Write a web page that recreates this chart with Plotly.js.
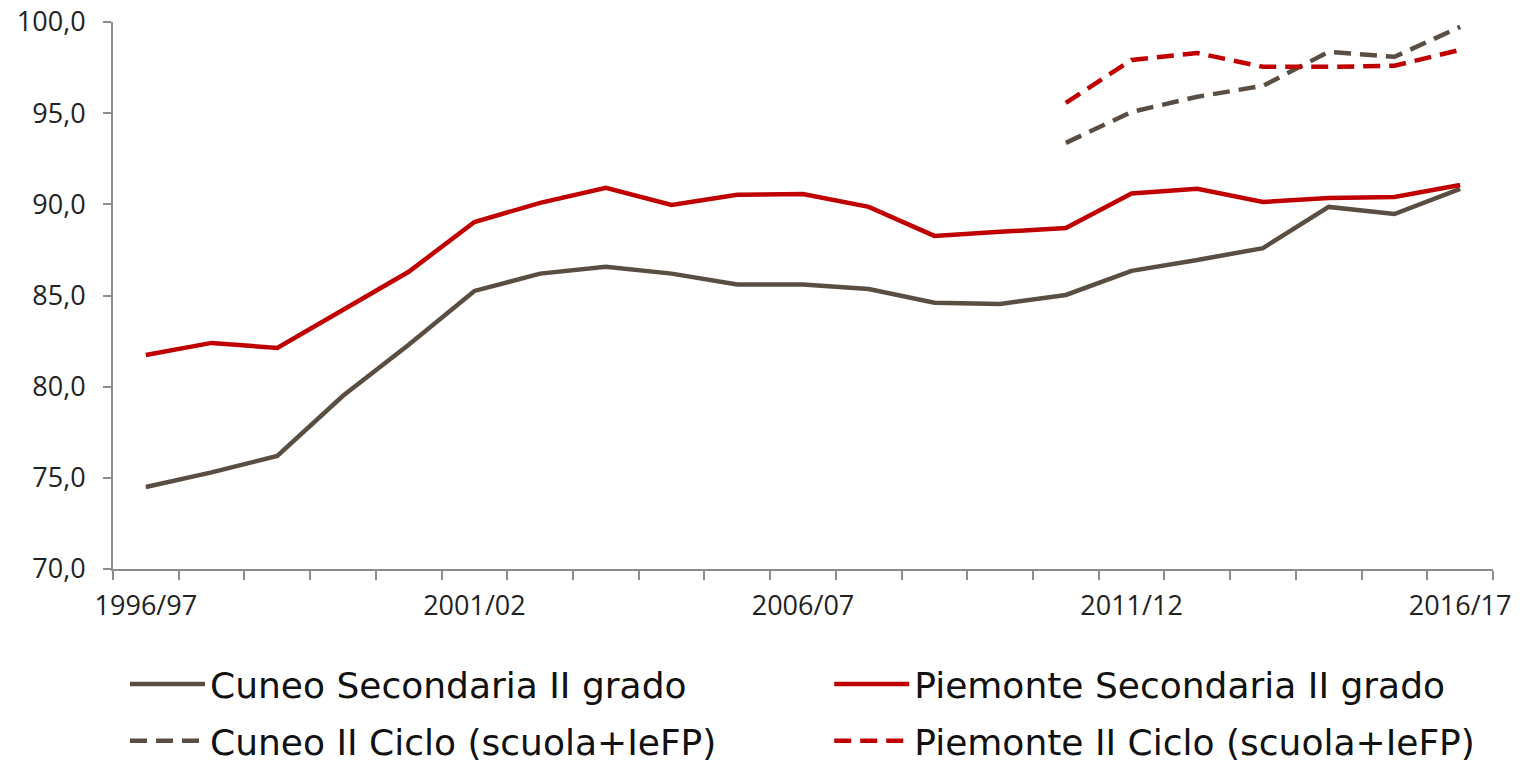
<!DOCTYPE html>
<html>
<head>
<meta charset="utf-8">
<script src="https://cdn.plot.ly/plotly-3.0.1.min.js"></script>
<style>html,body{margin:0;padding:0;background:#fff;}#chart{width:1522px;height:766px;}</style>
</head>
<body>
<div id="chart"></div>
<script>
var years = ["1996/97","1997/98","1998/99","1999/00","2000/01","2001/02","2002/03","2003/04","2004/05","2005/06","2006/07","2007/08","2008/09","2009/10","2010/11","2011/12","2012/13","2013/14","2014/15","2015/16","2016/17"];
var tickLabels = ["1996/97","","","","","2001/02","","","","","2006/07","","","","","2011/12","","","","","2016/17"];
var cuneoSec = [74.5,75.3,76.2,79.5,82.3,85.25,86.2,86.57,86.2,85.6,85.6,85.36,84.6,84.54,85.03,86.35,86.95,87.6,89.86,89.47,90.85];
var piemonteSec = [81.74,82.4,82.12,84.2,86.3,89.03,90.08,90.9,89.97,90.52,90.57,89.86,88.27,88.49,88.7,90.6,90.85,90.13,90.35,90.4,91.06];
var cicloYears = ["2010/11","2011/12","2012/13","2013/14","2014/15","2015/16","2016/17"];
var cuneoCiclo = [93.37,95.07,95.9,96.5,98.36,98.09,99.73];
var piemonteCiclo = [95.56,97.92,98.3,97.54,97.54,97.6,98.47];

var brown = "#5a4e42", red = "#c00000";
var dashPat = "17px,9px";
var data = [
  {x: years, y: cuneoSec, name: "Cuneo Secondaria II grado", type: "scatter", mode: "lines", line: {color: brown, width: 4.5}, legend: "legend", legendgroup: "a"},
  {x: years, y: piemonteSec, name: "Piemonte Secondaria II grado", type: "scatter", mode: "lines", line: {color: red, width: 4.5}, legend: "legend2", legendgroup: "b"},
  {x: cicloYears, y: cuneoCiclo, name: "Cuneo II Ciclo (scuola+IeFP)", type: "scatter", mode: "lines", line: {color: brown, width: 4.5, dash: dashPat}, legend: "legend", legendgroup: "c"},
  {x: cicloYears, y: piemonteCiclo, name: "Piemonte II Ciclo (scuola+IeFP)", type: "scatter", mode: "lines", line: {color: red, width: 4.5, dash: dashPat}, legend: "legend2", legendgroup: "d"}
];
var tickFont = {size: 27, family: "'Open Sans', sans-serif", color: "#222"};
var legendFont = {size: 36, family: "'DejaVu Sans', sans-serif", color: "#111"};
var legendBase = {
  orientation: "v", xref: "paper", yref: "container", xanchor: "left", yanchor: "top",
  y: 0.146, font: legendFont, itemwidth: 75, traceorder: "grouped", tracegroupgap: 7,
  bgcolor: "rgba(0,0,0,0)"
};
var layout = {
  width: 1522, height: 766,
  margin: {l: 113, r: 29, t: 22, b: 197},
  paper_bgcolor: "#fff", plot_bgcolor: "#fff",
  separators: ",.",
  showlegend: true,
  hovermode: false,
  font: {family: "'Open Sans', sans-serif", color: "#222"},
  xaxis: {
    type: "category", categoryorder: "array", categoryarray: years,
    range: [-0.5, 20.5], automargin: false,
    tickmode: "array", tickvals: years, ticktext: tickLabels, tickangle: 0,
    tickson: "boundaries", ticks: "outside", ticklen: 9, tickwidth: 2, tickcolor: "#8c8c8c",
    ticklabelstandoff: 12,
    showline: true, linecolor: "#8c8c8c", linewidth: 2,
    showgrid: false, zeroline: false,
    tickfont: tickFont
  },
  yaxis: {
    range: [70, 100], dtick: 5, tickformat: ".1f", automargin: false,
    ticks: "outside", ticklen: 8, tickwidth: 2, tickcolor: "#8c8c8c",
    ticklabelstandoff: 12,
    showline: true, linecolor: "#8c8c8c", linewidth: 2,
    showgrid: false, zeroline: false,
    tickfont: tickFont
  },
  legend: Object.assign({}, legendBase, {x: 0.0087}),
  legend2: Object.assign({}, legendBase, {x: 0.519})
};
Plotly.newPlot("chart", data, layout, {displayModeBar: false, staticPlot: true});
</script>
</body>
</html>
